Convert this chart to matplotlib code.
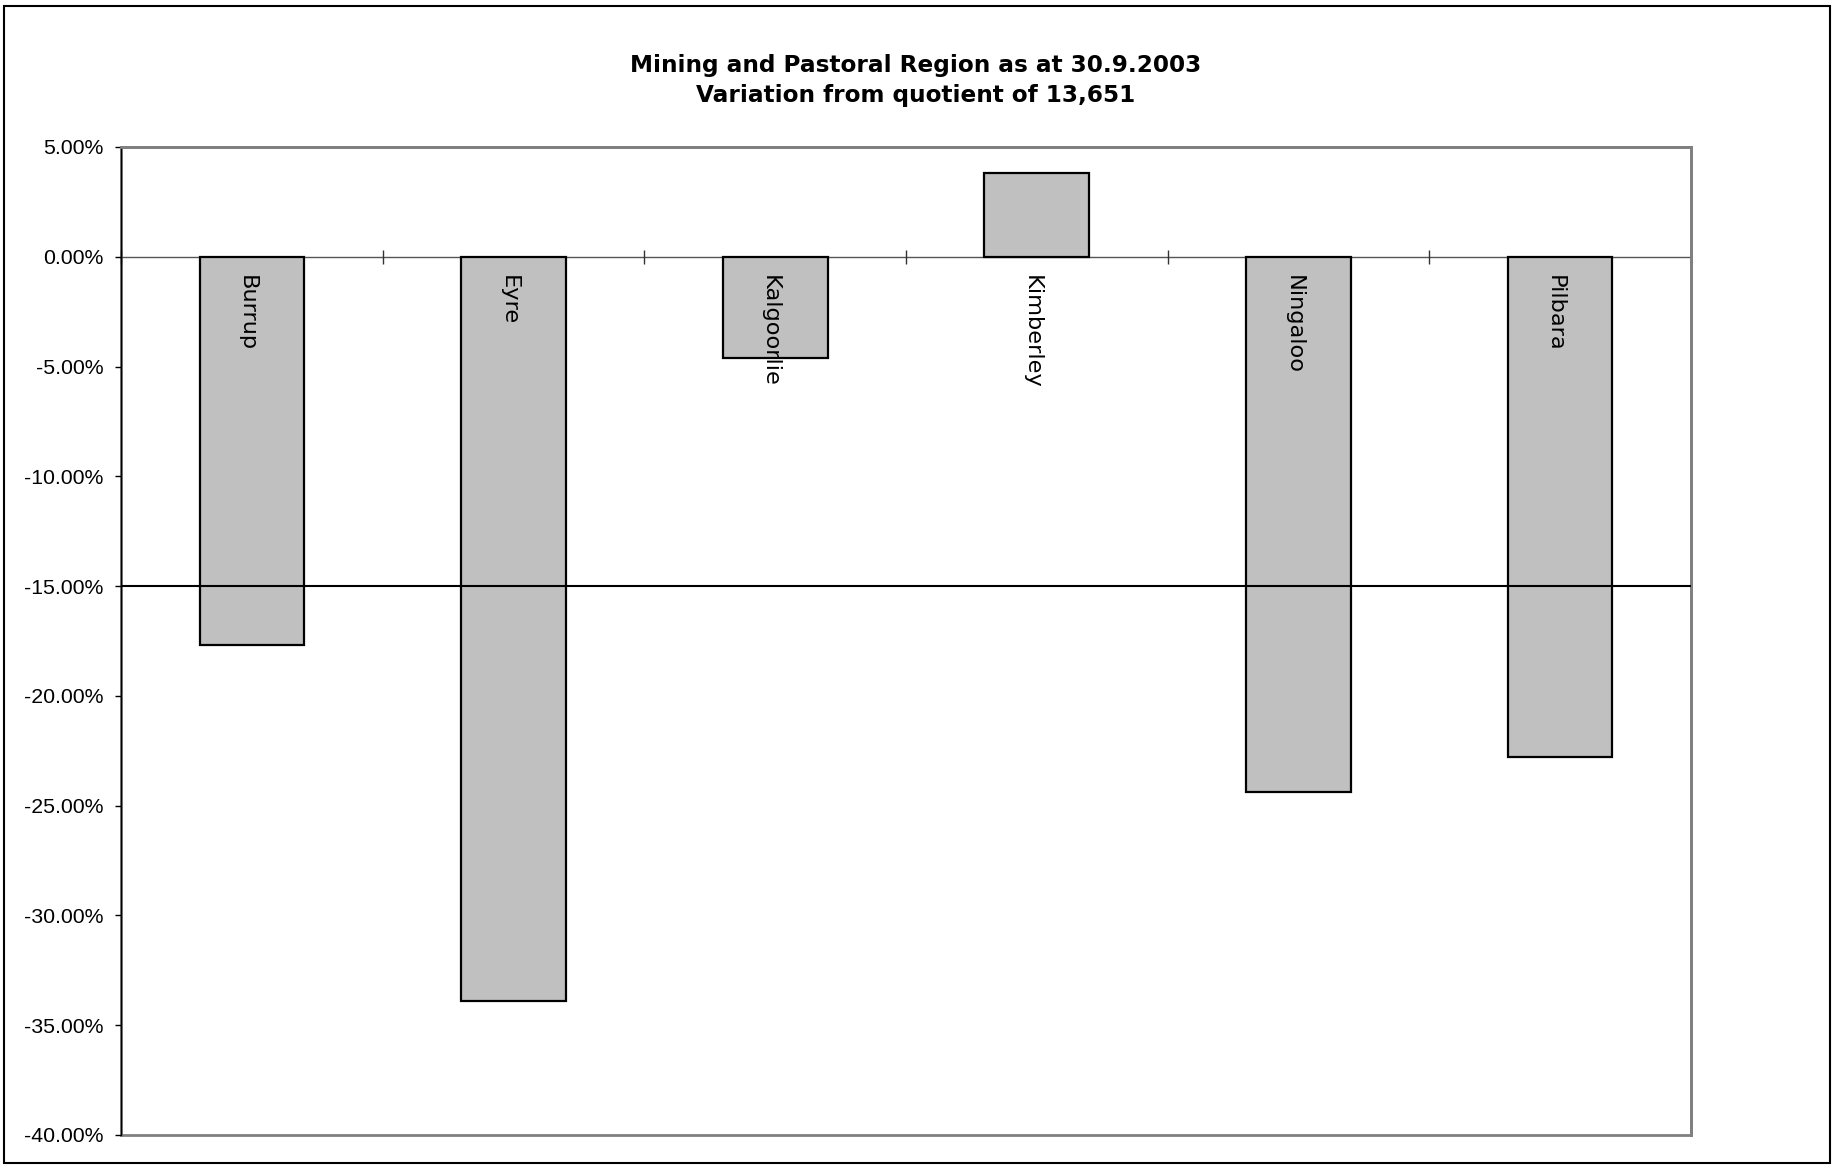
import matplotlib
matplotlib.use("Agg")
import matplotlib.pyplot as plt
from matplotlib.patches import Rectangle
from matplotlib.ticker import FixedLocator, FuncFormatter, NullFormatter
import numpy as np

# data (percent variation from quotient)
regions = ['Burrup', 'Eyre', 'Kalgoorlie', 'Kimberley', 'Ningaloo', 'Pilbara']
variation = [-17.7, -33.9, -4.6, 3.8, -24.4, -22.8]
tolerance = -15.0
yticks = [5, 0, -5, -10, -15, -20, -25, -30, -35, -40]
title = "Mining and Pastoral Region as at 30.9.2003\nVariation from quotient of 13,651"

fig = plt.figure(figsize=(18.32, 11.68), dpi=100)
ax = fig.add_axes([121 / 1832, 1 - 1135 / 1168, (1691 - 121) / 1832, (1135 - 147) / 1168])

x = np.arange(len(regions))
ax.bar(x, variation, width=0.4, color='#C0C0C0', edgecolor='black', linewidth=1.6, zorder=2)
ax.axhline(tolerance, color='black', linewidth=1.5, zorder=3)

ax.set_xlim(-0.5, len(regions) - 0.5)
ax.set_ylim(min(yticks), max(yticks))

# plot area border
ax.patch.set_edgecolor('#808080')
ax.patch.set_linewidth(2.0)
for side in ['top', 'right']:
    ax.spines[side].set_color('#808080')
    ax.spines[side].set_linewidth(2.0)
ax.spines['left'].set_color('black')
ax.spines['left'].set_linewidth(1.0)

# category axis crosses at zero, line sits behind the bars
ax.spines['bottom'].set_position(('data', 0))
ax.spines['bottom'].set_color('#555555')
ax.spines['bottom'].set_linewidth(1.0)
ax.spines['bottom'].set_zorder(1.5)
ax.xaxis.set_major_locator(FixedLocator(np.arange(len(regions) + 1) - 0.5))
ax.xaxis.set_major_formatter(NullFormatter())
ax.tick_params(axis='x', length=10, direction='inout', width=1.0, color='#333333')

# category names just under the zero line, on top of the bars
for xi, name in zip(x, regions):
    ax.annotate(name, (xi, 0), xytext=(-3.6, -13), textcoords='offset points',
                rotation=-90, ha='center', va='top', fontsize=16.2,
                family='DejaVu Sans', zorder=5)

ax.yaxis.set_major_locator(FixedLocator(yticks))
ax.yaxis.set_major_formatter(FuncFormatter(lambda v, p: '%.2f%%' % v))
ax.tick_params(axis='y', length=4.5, width=1.0, pad=8, labelsize=15.3)
for lab in ax.get_yticklabels():
    lab.set_family('Liberation Sans')

fig.text(0.5, 1 - 80.5 / 1168, title, ha='center', va='center', fontsize=16.7,
         fontweight='bold', family='DejaVu Sans', linespacing=1.35)

fig.patches.append(Rectangle((4 / 1832, 1 - 1163 / 1168), (1830 - 4) / 1832, (1163 - 6) / 1168,
                             transform=fig.transFigure, fill=False, edgecolor='black',
                             linewidth=1.5))

fig.savefig('out.png', dpi=100)
